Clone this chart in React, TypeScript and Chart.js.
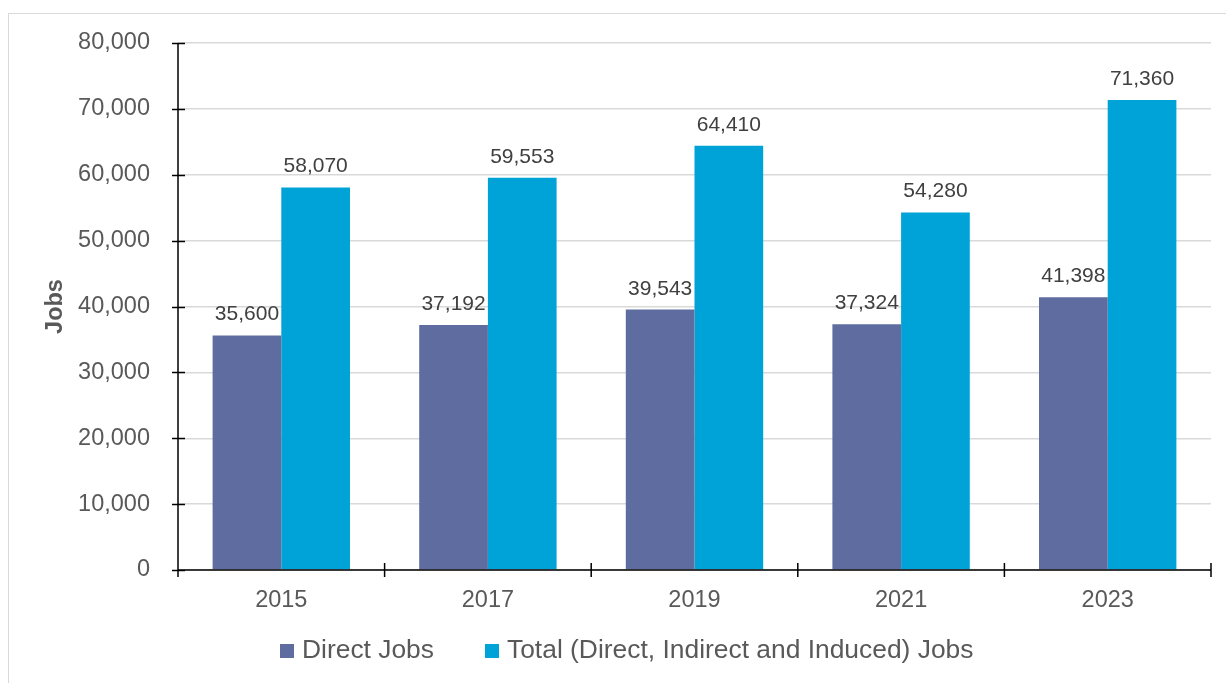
import React, { useEffect, useRef } from "react";
import { Chart, registerables } from "chart.js";

Chart.register(...registerables);

const categories = ["2015", "2017", "2019", "2021", "2023"];
const directJobs = [35600, 37192, 39543, 37324, 41398];
const totalJobs = [58070, 59553, 64410, 54280, 71360];
const seriesNames = ["Direct Jobs", "Total (Direct, Indirect and Induced) Jobs"];
const seriesColors = ["#5E6CA0", "#00A3D7"];
const yTitle = "Jobs";
const yMax = 80000;
const yStep = 10000;

const FONT = "'Liberation Sans', Arial, sans-serif";
const fmt = (v: number) => v.toLocaleString("en-US");

const dataLabelPlugin = {
  id: "dataLabels",
  afterDatasetsDraw(chart: any) {
    const ctx = chart.ctx;
    ctx.save();
    ctx.font = `21px ${FONT}`;
    ctx.fillStyle = "#404040";
    ctx.textAlign = "center";
    ctx.textBaseline = "alphabetic";
    chart.data.datasets.forEach((ds: any, di: number) => {
      const meta = chart.getDatasetMeta(di);
      meta.data.forEach((el: any, i: number) => {
        ctx.fillText(fmt(ds.data[i]), el.x, el.y - 15);
      });
    });
    ctx.restore();
  },
};

const axesPlugin = {
  id: "axesCross",
  afterDatasetsDraw(chart: any) {
    const { ctx, chartArea, scales } = chart;
    const { left, right, top, bottom } = chartArea;
    ctx.save();
    ctx.strokeStyle = "#000000";
    ctx.lineWidth = 1.5;
    ctx.beginPath();
    ctx.moveTo(left, top);
    ctx.lineTo(left, bottom);
    ctx.moveTo(left, bottom);
    ctx.lineTo(right, bottom);
    const y = scales.y;
    y.ticks.forEach((t: any) => {
      const py = Math.round(y.getPixelForValue(t.value)) + 0.5;
      ctx.moveTo(left - 6, py);
      ctx.lineTo(left + 7, py);
    });
    const n = categories.length;
    const w = (right - left) / n;
    for (let i = 0; i <= n; i++) {
      const px = left + i * w;
      ctx.moveTo(px, bottom - 7);
      ctx.lineTo(px, bottom + 7);
    }
    ctx.stroke();
    ctx.restore();
  },
};

export default function App() {
  const ref = useRef<HTMLCanvasElement | null>(null);

  useEffect(() => {
    if (!ref.current) return;
    const chart = new Chart(ref.current, {
      type: "bar",
      data: {
        labels: categories,
        datasets: [
          {
            label: seriesNames[0],
            data: directJobs,
            backgroundColor: seriesColors[0],
            categoryPercentage: 0.665,
            barPercentage: 1,
          },
          {
            label: seriesNames[1],
            data: totalJobs,
            backgroundColor: seriesColors[1],
            categoryPercentage: 0.665,
            barPercentage: 1,
          },
        ],
      },
      options: {
        responsive: false,
        animation: false,
        devicePixelRatio: 1,
        layout: { padding: { left: 0, top: 43, right: 15, bottom: 53 } },
        plugins: {
          legend: { display: false },
          tooltip: { enabled: false },
        },
        scales: {
          x: {
            grid: { display: false, drawTicks: false },
            border: { display: false },
            ticks: {
              color: "#595959",
              font: { family: FONT, size: 23.5 },
              padding: 16,
              maxRotation: 0,
            },
            afterFit: (s: any) => {
              s.height = 60;
            },
          },
          y: {
            min: 0,
            max: yMax,
            grid: { color: "#D9D9D9", lineWidth: 1.5, drawTicks: false },
            border: { display: false },
            ticks: {
              stepSize: yStep,
              color: "#595959",
              font: { family: FONT, size: 23.5 },
              padding: 28,
              callback: (v: any) => fmt(Number(v)),
            },
            title: {
              display: true,
              text: yTitle,
              color: "#595959",
              font: { family: FONT, size: 23.5, weight: "bold" },
              padding: { top: 41, bottom: 0 },
            },
            afterFit: (s: any) => {
              s.width = 178;
            },
          },
        },
      },
      plugins: [axesPlugin, dataLabelPlugin],
    });
    return () => chart.destroy();
  }, []);

  const legendText: React.CSSProperties = {
    position: "absolute",
    top: 634,
    fontFamily: FONT,
    fontSize: 26.4,
    lineHeight: "30px",
    color: "#595959",
    whiteSpace: "nowrap",
  };
  const sq: React.CSSProperties = { position: "absolute", top: 644, width: 14, height: 14 };

  return (
    <div
      style={{
        position: "fixed",
        left: 0,
        top: 0,
        width: 1226,
        height: 683,
        overflow: "hidden",
        background: "#ffffff",
      }}
    >
      <div
        style={{
          position: "absolute",
          left: 8,
          top: 13,
          width: 1240,
          height: 700,
          border: "1.5px solid #D9D9D9",
          boxSizing: "border-box",
        }}
      />
      <canvas
        ref={ref}
        width={1226}
        height={683}
        style={{ position: "absolute", left: 0, top: 0, width: 1226, height: 683 }}
      />
      <div style={{ ...sq, left: 280, background: seriesColors[0] }} />
      <div style={{ ...legendText, left: 302 }}>{seriesNames[0]}</div>
      <div style={{ ...sq, left: 485, background: seriesColors[1] }} />
      <div style={{ ...legendText, left: 507 }}>{seriesNames[1]}</div>
    </div>
  );
}
